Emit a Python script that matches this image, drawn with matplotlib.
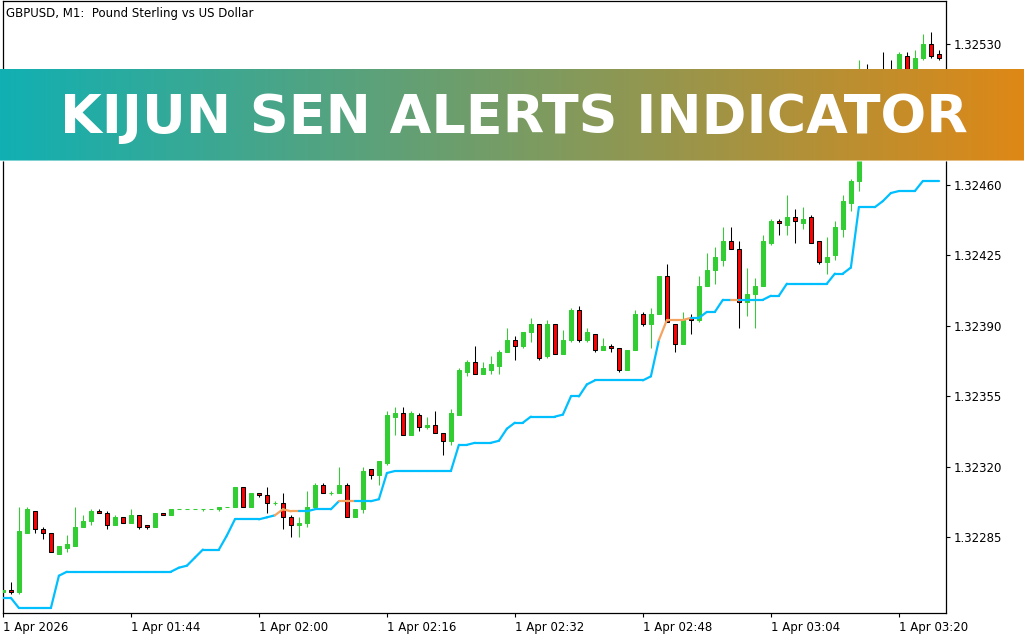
import matplotlib
matplotlib.use("Agg")
import matplotlib.pyplot as plt
import numpy as np
from matplotlib.collections import LineCollection

plt.rcParams['font.family'] = ['DejaVu Sans']

# ---------------- data ----------------
opens = [1.32258, 1.32259, 1.32258, 1.32287, 1.32298, 1.32289, 1.32287, 1.32277, 1.32280, 1.32281,
         1.32290, 1.32293, 1.32298, 1.32297, 1.32291, 1.32295, 1.32292, 1.32296, 1.32291, 1.32290,
         1.32297, 1.32296, 1.32299, 1.32299, 1.32299, 1.32299, 1.32299, 1.32299, 1.32300, 1.32300,
         1.32310, 1.32300, 1.32307, 1.32306, 1.32302, 1.32302, 1.32295, 1.32291, 1.32292, 1.32300,
         1.32311, 1.32307, 1.32307, 1.32311, 1.32295, 1.32299, 1.32319, 1.32316, 1.32322, 1.32345,
         1.32347, 1.32336, 1.32346, 1.32340, 1.32341, 1.32337, 1.32333, 1.32346, 1.32367, 1.32372,
         1.32366, 1.32368, 1.32370, 1.32377, 1.32383, 1.32380, 1.32387, 1.32391, 1.32375, 1.32391,
         1.32376, 1.32383, 1.32398, 1.32383, 1.32386, 1.32378, 1.32380, 1.32379, 1.32368, 1.32378,
         1.32396, 1.32391, 1.32396, 1.32415, 1.32391, 1.32381, 1.32394, 1.32393, 1.32410, 1.32418,
         1.32423, 1.32432, 1.32428, 1.32402, 1.32406, 1.32410, 1.32431, 1.32442, 1.32440, 1.32444,
         1.32441, 1.32444, 1.32432, 1.32422, 1.32425, 1.32438, 1.32451, 1.32462, 1.32492, 1.32485,
         1.32500, 1.32496, 1.32493, 1.32524, 1.32508, 1.32523, 1.32530, 1.32525]
highs = [1.32260, 1.32263, 1.32300, 1.32300, 1.32298, 1.32290, 1.32287, 1.32281, 1.32286, 1.32300,
         1.32296, 1.32299, 1.32299, 1.32298, 1.32296, 1.32295, 1.32299, 1.32296, 1.32291, 1.32297,
         1.32297, 1.32299, 1.32299, 1.32299, 1.32299, 1.32299, 1.32299, 1.32300, 1.32300, 1.32310,
         1.32310, 1.32307, 1.32307, 1.32310, 1.32303, 1.32307, 1.32296, 1.32295, 1.32308, 1.32312,
         1.32312, 1.32308, 1.32320, 1.32312, 1.32299, 1.32320, 1.32319, 1.32323, 1.32348, 1.32350,
         1.32350, 1.32348, 1.32347, 1.32345, 1.32348, 1.32337, 1.32349, 1.32369, 1.32373, 1.32380,
         1.32372, 1.32375, 1.32378, 1.32389, 1.32385, 1.32387, 1.32394, 1.32391, 1.32393, 1.32391,
         1.32388, 1.32399, 1.32400, 1.32389, 1.32386, 1.32384, 1.32381, 1.32379, 1.32378, 1.32398,
         1.32397, 1.32399, 1.32415, 1.32421, 1.32391, 1.32397, 1.32396, 1.32415, 1.32426, 1.32429,
         1.32439, 1.32439, 1.32432, 1.32419, 1.32414, 1.32435, 1.32443, 1.32443, 1.32455, 1.32448,
         1.32449, 1.32445, 1.32432, 1.32434, 1.32442, 1.32455, 1.32463, 1.32522, 1.32520, 1.32510,
         1.32526, 1.32522, 1.32526, 1.32526, 1.32527, 1.32535, 1.32536, 1.32527]
lows = [1.32258, 1.32257, 1.32257, 1.32287, 1.32287, 1.32284, 1.32278, 1.32277, 1.32278, 1.32281,
        1.32290, 1.32291, 1.32297, 1.32289, 1.32291, 1.32292, 1.32292, 1.32289, 1.32289, 1.32290,
        1.32296, 1.32296, 1.32299, 1.32299, 1.32299, 1.32298, 1.32299, 1.32298, 1.32300, 1.32300,
        1.32300, 1.32300, 1.32305, 1.32297, 1.32301, 1.32289, 1.32285, 1.32285, 1.32290, 1.32300,
        1.32307, 1.32306, 1.32307, 1.32295, 1.32295, 1.32297, 1.32314, 1.32311, 1.32321, 1.32336,
        1.32336, 1.32336, 1.32338, 1.32339, 1.32337, 1.32326, 1.32331, 1.32346, 1.32365, 1.32366,
        1.32366, 1.32366, 1.32366, 1.32377, 1.32373, 1.32379, 1.32382, 1.32373, 1.32374, 1.32376,
        1.32376, 1.32382, 1.32382, 1.32382, 1.32377, 1.32378, 1.32377, 1.32367, 1.32368, 1.32378,
        1.32390, 1.32379, 1.32396, 1.32392, 1.32377, 1.32381, 1.32386, 1.32392, 1.32410, 1.32411,
        1.32420, 1.32428, 1.32389, 1.32395, 1.32389, 1.32410, 1.32430, 1.32435, 1.32435, 1.32431,
        1.32438, 1.32431, 1.32421, 1.32416, 1.32423, 1.32434, 1.32447, 1.32457, 1.32478, 1.32482,
        1.32490, 1.32488, 1.32490, 1.32505, 1.32503, 1.32522, 1.32523, 1.32522]
closes = [1.32259, 1.32258, 1.32288, 1.32299, 1.32289, 1.32287, 1.32278, 1.32281, 1.32282, 1.32290,
          1.32293, 1.32298, 1.32297, 1.32291, 1.32295, 1.32292, 1.32296, 1.32290, 1.32290, 1.32297,
          1.32296, 1.32299, 1.32299, 1.32299, 1.32299, 1.32299, 1.32299, 1.32300, 1.32300, 1.32310,
          1.32300, 1.32307, 1.32306, 1.32302, 1.32302, 1.32295, 1.32291, 1.32292, 1.32300, 1.32311,
          1.32307, 1.32307, 1.32311, 1.32295, 1.32299, 1.32318, 1.32316, 1.32323, 1.32346, 1.32347,
          1.32336, 1.32347, 1.32340, 1.32341, 1.32337, 1.32333, 1.32347, 1.32368, 1.32372, 1.32366,
          1.32369, 1.32371, 1.32377, 1.32383, 1.32380, 1.32387, 1.32391, 1.32374, 1.32391, 1.32376,
          1.32383, 1.32398, 1.32383, 1.32387, 1.32378, 1.32380, 1.32379, 1.32368, 1.32378, 1.32396,
          1.32391, 1.32396, 1.32415, 1.32392, 1.32381, 1.32393, 1.32393, 1.32410, 1.32418, 1.32424,
          1.32432, 1.32428, 1.32402, 1.32406, 1.32410, 1.32432, 1.32442, 1.32441, 1.32444, 1.32442,
          1.32443, 1.32431, 1.32422, 1.32424, 1.32439, 1.32452, 1.32462, 1.32492, 1.32485, 1.32500,
          1.32496, 1.32493, 1.32525, 1.32508, 1.32523, 1.32530, 1.32524, 1.32523]
kijun = ([1.32255] * 2 + [1.32250] * 5 + [1.32266] + [1.32268] * 14 + [1.32270, 1.32271, 1.32275]
         + [1.32279] * 3 + [1.32286] + [1.32294] * 4 + [1.32295, 1.32296, 1.32299] + [1.32298] * 3
         + [1.32299] * 3 + [1.32303] * 5 + [1.32304, 1.32317] + [1.32318] * 8 + [1.32331] * 2
         + [1.32332] * 3 + [1.32333, 1.32339] + [1.32342] * 2 + [1.32345] * 4 + [1.32346]
         + [1.32355] * 2 + [1.32361] + [1.32363] * 7 + [1.32365, 1.32383] + [1.32393] * 3
         + [1.32394] * 2 + [1.32397] * 2 + [1.32403] * 6 + [1.32405] * 2 + [1.32411] * 6
         + [1.32416] * 2 + [1.32419] + [1.32449] * 3 + [1.32452, 1.32456] + [1.32457] * 3
         + [1.32462] * 3)
close_below_kijun = [35, 36, 37, 43, 44, 83, 84, 85, 86, 92]

time_tick_bars = [0, 16, 32, 48, 64, 80, 96, 112]
time_labels = ["1 Apr 2026", "1 Apr 01:44", "1 Apr 02:00", "1 Apr 02:16",
               "1 Apr 02:32", "1 Apr 02:48", "1 Apr 03:04", "1 Apr 03:20"]
# 1.32495 lies under the banner in the reference, so only visible labels are kept
price_ticks = [1.32285, 1.32320, 1.32355, 1.32390, 1.32425, 1.32460, 1.32530]
chart_title = "GBPUSD, M1:  Pound Sterling vs US Dollar"
banner_text = "KIJUN SEN ALERTS INDICATOR"

# ---------------- figure ----------------
W, H = 1024, 640
fig = plt.figure(figsize=(W / 100, H / 100), dpi=100)
fig.patch.set_facecolor("white")

ax = fig.add_axes([2.5 / W, (H - 613) / H, (946 - 2.5) / W, (613 - 1) / H])
ax.set_facecolor("white")

o = np.array(opens); h = np.array(highs); l = np.array(lows); c = np.array(closes)
x = np.arange(len(o))
bull = c >= o
GREEN = "#32CD32"
RED = "#FF0000"

wick_colors = [GREEN if b else "black" for b in bull]
ax.vlines(x, l, h, colors=wick_colors, linewidth=0.75, zorder=2)
body_fc = [GREEN if b else RED for b in bull]
body_ec = [GREEN if b else "black" for b in bull]
ax.bar(x, np.abs(c - o), bottom=np.minimum(o, c), width=0.52,
       color=body_fc, edgecolor=body_ec, linewidth=0.75, zorder=3)

# Kijun-sen line (two colours)
k = np.array(kijun)
segs = [[(i - 1, k[i - 1]), (i, k[i])] for i in range(1, len(k))]
seg_colors = ["#F4A460" if i in close_below_kijun else "#00BFFF" for i in range(1, len(k))]
lc = LineCollection(segs, colors=seg_colors, linewidths=1.6, capstyle="round", zorder=4)
ax.add_collection(lc)

ax.set_xlim(-0.05, 117.89)
ax.set_ylim(1.3224751, 1.3255134)

for s in ax.spines.values():
    s.set_color("black")
    s.set_linewidth(0.9)

ax.yaxis.tick_right()
ax.set_yticks(price_ticks)
ax.set_yticklabels([f"{p:.5f}" for p in price_ticks])
ax.tick_params(axis="y", direction="out", length=3.2, width=0.8, pad=2.5,
               labelsize=8.5, colors="black")
ax.set_xticks(time_tick_bars)
ax.set_xticklabels(time_labels, ha="left")
ax.tick_params(axis="x", direction="out", length=2.6, width=0.8, pad=3,
               labelsize=8.5, colors="black")

fig.text(6.5 / W, 1 - 17.5 / H, chart_title, fontsize=8.5, va="baseline", ha="left")

# ---------------- banner ----------------
b_top, b_bot = 69, 161.5
bax = fig.add_axes([0, (H - b_bot) / H, 1, (b_bot - b_top) / H], zorder=10)
left_rgb = np.array([17, 176, 179]) / 255
right_rgb = np.array([222, 136, 22]) / 255
t = np.linspace(0, 1, 512)[None, :, None]
grad = left_rgb[None, None, :] * (1 - t) + right_rgb[None, None, :] * t
bax.imshow(grad, aspect="auto", extent=[0, 1, 0, 1], interpolation="bilinear")
# faint light edge along the bottom of the banner
bax.axhspan(0, 1.8 / (b_bot - b_top), color="white", alpha=0.45, lw=0)
bax.set_xlim(0, 1); bax.set_ylim(0, 1)
bax.axis("off")

txt = bax.text(514 / W, (b_bot - 133) / (b_bot - b_top), banner_text, color="white",
               fontsize=40, fontweight="bold", ha="center", va="baseline")
fig.canvas.draw()
bb = txt.get_window_extent(renderer=fig.canvas.get_renderer())
txt.set_fontsize(40 * 906 / bb.width)

fig.savefig("out.png", dpi=100, facecolor="white")
